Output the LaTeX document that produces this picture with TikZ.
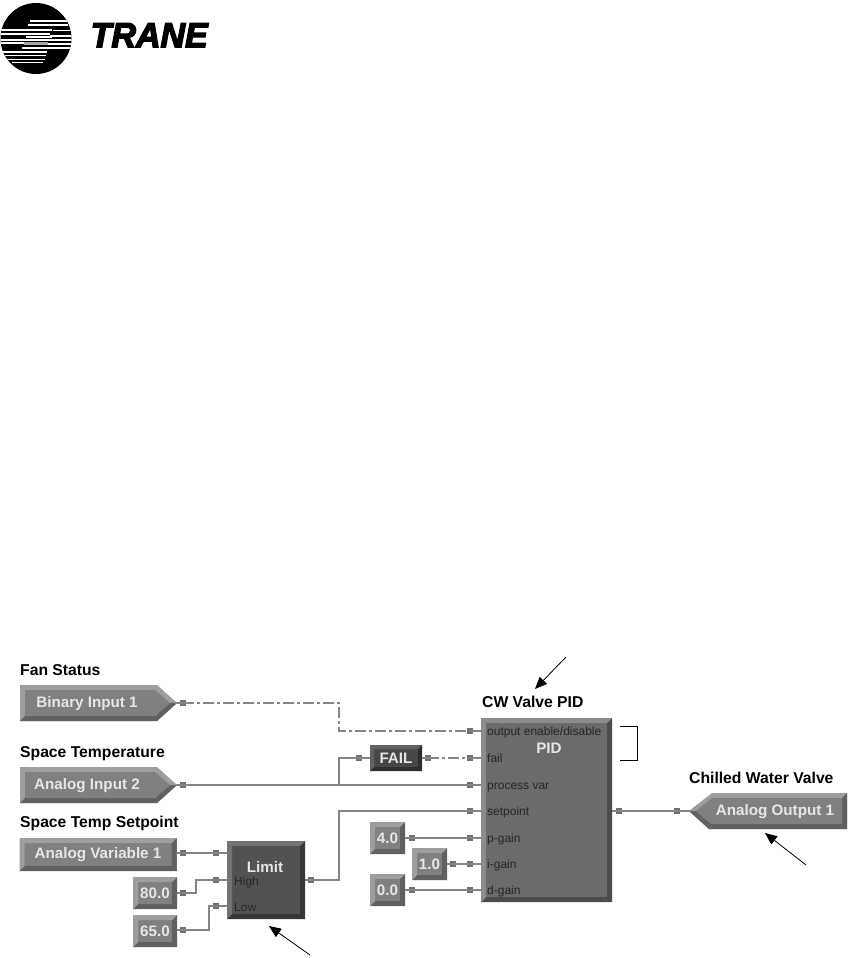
\documentclass[tikz,border=0pt]{standalone}
\usepackage{fontspec}
\usepackage{graphicx}
\setmainfont{Liberation Sans}
\newfontfamily\logofont[BoldItalicFeatures={FakeBold=4}]{Liberation Sans}
\usetikzlibrary{arrows.meta}
\definecolor{wirec}{HTML}{858585}
\definecolor{portc}{HTML}{707070}
\definecolor{lbl}{HTML}{E6E6E6}
\tikzset{
  title/.style={anchor=base west,inner sep=0pt,font=\fontsize{15.7}{16}\selectfont\bfseries,text=black},
  blocktext/.style={inner sep=0pt,font=\fontsize{15.2}{16}\selectfont\bfseries,text=lbl},
  porttext/.style={anchor=base west,inner sep=0pt,font=\fontsize{12}{12}\selectfont,text=black!85},
  wire/.style={draw=wirec,line width=1.4pt},
  dashwire/.style={draw=wirec,line width=1.2pt,dash pattern=on 11pt off 3pt on 3pt off 3pt},
  port/.style={fill=portc,draw=none,minimum width=5.5pt,minimum height=5.5pt,inner sep=0pt,shape=rectangle},
  callout/.style={draw=black,line width=0.8pt,-{Triangle[length=12pt,width=10pt]}},
  bevel/.style n args={6}{shape=rectangle,draw=none,inner sep=0pt,
    minimum width=#1,minimum height=#2,fill=#3,
    path picture={
      \path (path picture bounding box.south west) coordinate (sw)
            (path picture bounding box.north east) coordinate (ne)
            (path picture bounding box.south east) coordinate (se)
            (path picture bounding box.north west) coordinate (nw);
      \fill[#4] (sw) -- (se) -- (ne) -- ([xshift=-#5,yshift=-#5]ne) -- ([xshift=-#5,yshift=#5]se) -- ([xshift=#5,yshift=#5]sw) -- cycle;
      \fill[#6] (sw) -- (nw) -- (ne) -- ([xshift=-#5,yshift=-#5]ne) -- ([xshift=#5,yshift=-#5]nw) -- ([xshift=#5,yshift=#5]sw) -- cycle;
    }}
}
\begin{document}
\begin{tikzpicture}[x=1pt,y=-1pt]
\useasboundingbox (0,0) rectangle (856,958);
\fill[white] (0,0) rectangle (856,958);

% logo
\begin{scope}
\clip (36,38.5) circle (35.5);
\fill[black] (0,0) rectangle (75,78);
\fill[white] (30,20.5) rectangle (72,22);
\fill[white] (28,24.5) rectangle (68,26.5);
\fill[white] (0,29) rectangle (52,31);
\fill[white] (53,30) rectangle (75,31);
\fill[white] (0,33) rectangle (50,35);
\fill[white] (26,36) rectangle (52,38);
\fill[white] (50,35.5) rectangle (75,37.5);
\fill[white] (0,39) rectangle (52,41);
\fill[white] (50,39.5) rectangle (75,41.5);
\fill[gray!70] (24,42) rectangle (48,45);
\fill[white] (0,42.5) rectangle (24,44.5);
\fill[white] (48,43.5) rectangle (75,45.5);
\fill[white] (22,47) rectangle (72,49);
\fill[white] (3,51) rectangle (47,53);
\fill[white] (5,55) rectangle (46,56.5);
\fill[white] (7,59) rectangle (45,60.5);
\fill[white] (12,62) rectangle (43,63.5);
\end{scope}
\node[inner sep=0pt,anchor=north west] (logo) at (90.5,23) {\resizebox{117pt}{24pt}{\logofont\bfseries\itshape TRANE}};

% junction points
\coordinate (j1) at (339,703);
\coordinate (j2) at (339,731);
\coordinate (j3) at (339,785);
\coordinate (j4) at (339,758);
\coordinate (j5) at (339,880);
\coordinate (j6) at (339,811);
\coordinate (j7) at (196,893);
\coordinate (j8) at (196,880);
\coordinate (j9) at (209,930);
\coordinate (j10) at (209,906);
\coordinate (tipBI) at (175,703);
\coordinate (tipAI) at (175,785);
\coordinate (tipAO) at (691,811);

% ports
\node[port] (pBI) at (183,703) {};
\node[port] (pAI) at (183,785) {};
\node[port] (pAVo) at (183,853) {};
\node[port] (pAVi) at (216,853) {};
\node[port] (p80) at (183,893) {};
\node[port] (pHi) at (216,880) {};
\node[port] (p65) at (183,930) {};
\node[port] (pLo) at (216,906) {};
\node[port] (pLim) at (311,880) {};
\node[port] (pOE) at (470,731) {};
\node[port] (pFail) at (470,758) {};
\node[port] (pPV) at (470,785) {};
\node[port] (pSP) at (470,811) {};
\node[port] (pP) at (470,838) {};
\node[port] (pI) at (470,864) {};
\node[port] (pD) at (470,890) {};
\node[port] (pOut) at (619,811) {};
\node[port] (pAO) at (677,811) {};
\node[port] (pFi) at (359,758) {};
\node[port] (pFo) at (428,758) {};
\node[port] (p4) at (412,838) {};
\node[port] (p1) at (453,864) {};
\node[port] (p0) at (412,890) {};

\draw[dashwire] (pBI.center) -- (j1) -- (j2) -- (pOE.center);
\draw[wire] (pAI.center) -- (pPV.center);
\draw[wire] (j3) -- (j4) -- (pFi.center);
\draw[dashwire] (pFo.center) -- (pFail.center);
\draw[wire] (pAVo.center) -- (pAVi.center);
\draw[wire] (p80.center) -- (j7) -- (j8) -- (pHi.center);
\draw[wire] (p65.center) -- (j9) -- (j10) -- (pLo.center);
\draw[wire] (pLim.center) -- (j5) -- (j6) -- (pSP.center);
\draw[wire] (p4.center) -- (pP.center);
\draw[wire] (p1.center) -- (pI.center);
\draw[wire] (p0.center) -- (pD.center);
\draw[wire] (pOut.center) -- (pAO.center);

% pentagon blocks
\fill[black!38] (20,685) -- (157,685) -- (177,703) -- (157,721) -- (20,721) -- cycle;
\fill[black!62] (20,721) -- (157,721) -- (177,703) -- (170,703) -- (155,716) -- (25,716) -- cycle;
\fill[black!50] (25,690) -- (155,690) -- (170,703) -- (155,716) -- (25,716) -- cycle;
\node[blocktext] (BI) at (87,704) {Binary Input 1};

\fill[black!38] (20,767) -- (157,767) -- (177,785) -- (157,803) -- (20,803) -- cycle;
\fill[black!62] (20,803) -- (157,803) -- (177,785) -- (170,785) -- (155,798) -- (25,798) -- cycle;
\fill[black!50] (25,772) -- (155,772) -- (170,785) -- (155,798) -- (25,798) -- cycle;
\node[blocktext] (AI) at (87,786) {Analog Input 2};

\fill[black!38] (847,793) -- (712,793) -- (689,811) -- (709,829) -- (847,829) -- cycle;
\fill[black!62] (847,793) -- (847,829) -- (709,829) -- (689,811) -- (696,811) -- (711,824) -- (842,824) -- (842,798) -- cycle;
\fill[black!50] (842,798) -- (712,798) -- (696,811) -- (711,824) -- (842,824) -- cycle;
\node[blocktext] (AO) at (775,812) {Analog Output 1};

% rectangular blocks
\node[bevel={157pt}{33pt}{black!50}{black!62}{5pt}{black!38},blocktext] (AV) at (98,854.5) {Analog Variable 1};
\node[bevel={44pt}{32pt}{black!50}{black!62}{5pt}{black!38},blocktext] (v80) at (155,893) {80.0};
\node[bevel={44pt}{32pt}{black!50}{black!62}{5pt}{black!38},blocktext] (v65) at (155,931) {65.0};
\node[bevel={35pt}{32pt}{black!50}{black!62}{5pt}{black!38},blocktext] (v4) at (387.5,838) {4.0};
\node[bevel={35pt}{32pt}{black!50}{black!62}{5pt}{black!38},blocktext] (v1) at (429.5,864) {1.0};
\node[bevel={35pt}{32pt}{black!50}{black!62}{5pt}{black!38},blocktext] (v0) at (387.5,890) {0.0};
\node[bevel={52pt}{26pt}{black!72}{black!82}{4pt}{black!62},blocktext] (fail) at (396,758) {FAIL};
\node[bevel={78pt}{78pt}{black!68}{black!78}{5pt}{black!55}] (lim) at (266,880) {};
\node[bevel={131pt}{184pt}{black!58}{black!70}{5pt}{black!45}] (pid) at (546.5,810) {};

% stubs joining ports to their blocks
\draw[wire] (tipBI) -- (pBI.center);
\draw[wire] (tipAI) -- (pAI.center);
\draw[wire] (tipAO) -- (pAO.center);
\draw[wire] (AV.east |- pAVo.center) -- (pAVo.center);
\draw[wire] (v80.east |- p80.center) -- (p80.center);
\draw[wire] (v65.east |- p65.center) -- (p65.center);
\draw[wire] (pAVi.center) -- (lim.west |- pAVi.center);
\draw[wire] (pHi.center) -- (lim.west |- pHi.center);
\draw[wire] (pLo.center) -- (lim.west |- pLo.center);
\draw[wire] (lim.east |- pLim.center) -- (pLim.center);
\draw[wire] (pFi.center) -- (fail.west |- pFi.center);
\draw[wire] (fail.east |- pFo.center) -- (pFo.center);
\draw[wire] (v4.east |- p4.center) -- (p4.center);
\draw[wire] (v1.east |- p1.center) -- (p1.center);
\draw[wire] (v0.east |- p0.center) -- (p0.center);
\draw[wire] (pid.east |- pOut.center) -- (pOut.center);
\foreach \n in {pOE,pFail,pPV,pSP,pP,pI,pD}{\draw[wire] (\n.center) -- (pid.west |- \n.center);}

\node[blocktext] (limT) at (265,867) {Limit};
\node[blocktext] (pidT) at (549,748) {PID};
\node[porttext] (tHi) at (234,885) {High};
\node[porttext] (tLo) at (234,911) {Low};
\node[porttext] (tOE) at (487,735) {output enable/disable};
\node[porttext] (tF) at (487,762) {fail};
\node[porttext] (tPV) at (487,789) {process var};
\node[porttext] (tSP) at (487,815) {setpoint};
\node[porttext] (tP) at (487,842) {p-gain};
\node[porttext] (tI) at (487,868) {i-gain};
\node[porttext] (tD) at (487,894) {d-gain};

% titles
\node[title] (t1) at (20,675) {Fan Status};
\node[title] (t2) at (20,757) {Space Temperature};
\node[title] (t3) at (20,827) {Space Temp Setpoint};
\node[title] (t4) at (482,707) {CW Valve PID};
\node[title] (t5) at (689,783) {Chilled Water Valve};

% callouts
\coordinate (a1s) at (566,657); \coordinate (a1e) at (535,689);
\coordinate (a2s) at (310,955); \coordinate (a2e) at (269,926);
\coordinate (a3s) at (806,865); \coordinate (a3e) at (765,833);
\draw[callout] (a1s) -- (a1e);
\draw[callout] (a2s) -- (a2e);
\draw[callout] (a3s) -- (a3e);

% bracket
\coordinate (b1) at (620,726); \coordinate (b2) at (637,726);
\coordinate (b3) at (637,760.5); \coordinate (b4) at (620,760.5);
\draw[black,line width=0.8pt] (b1) -- (b2) -- (b3) -- (b4);
\end{tikzpicture}
\end{document}
